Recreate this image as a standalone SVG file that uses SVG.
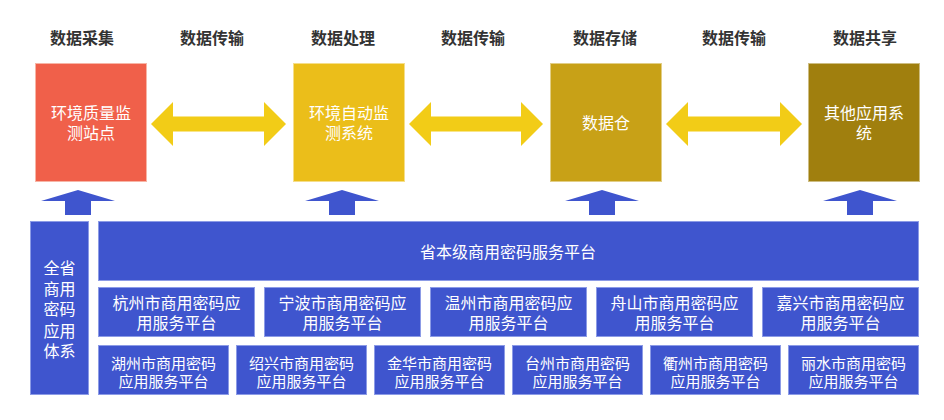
<svg xmlns="http://www.w3.org/2000/svg" width="944" height="420" viewBox="0 0 944 420">
<style>
.t{font-family:"Noto Sans CJK SC","Noto Sans",sans-serif;font-size:16px;font-weight:bold;fill:#333;text-anchor:middle}
.w{font-family:"Noto Sans CJK SC","Noto Sans",sans-serif;font-size:16px;fill:#fff;text-anchor:middle}
.w15{font-family:"Noto Sans CJK SC","Noto Sans",sans-serif;font-size:15px;fill:#fff;text-anchor:middle}
.b{fill:#3F55CE;stroke:#8C9BE6;stroke-width:1}
.dbl{fill:#F2CC17}
.up{fill:#3F55CE}
</style>
<rect width="944" height="420" fill="#fff"/>
<g id="titles">
<text class="t" x="82" y="44">数据采集</text>
<text class="t" x="212" y="44">数据传输</text>
<text class="t" x="343" y="44">数据处理</text>
<text class="t" x="473" y="44">数据传输</text>
<text class="t" x="605" y="44">数据存储</text>
<text class="t" x="734" y="44">数据传输</text>
<text class="t" x="865" y="44">数据共享</text>
</g>
<g id="node-collect">
<rect x="35.5" y="63.5" width="111" height="118" fill="#F0604A" stroke="#F7B5A6" stroke-width="1"/>
<text class="w" x="91" y="119">环境质量监</text>
<text class="w" x="91" y="139">测站点</text>
</g>
<g id="node-process">
<rect x="293.5" y="63.5" width="111" height="118" fill="#EBBE1A" stroke="#F5DE8A" stroke-width="1"/>
<text class="w" x="349" y="119">环境自动监</text>
<text class="w" x="349" y="139">测系统</text>
</g>
<g id="node-store">
<rect x="550.5" y="63.5" width="111" height="118" fill="#C8A117" stroke="#E2CE86" stroke-width="1"/>
<text class="w" x="606" y="129">数据仓</text>
</g>
<g id="node-share">
<rect x="808.5" y="63.5" width="111" height="118" fill="#A07F0E" stroke="#CDBD82" stroke-width="1"/>
<text class="w" x="864" y="119">其他应用系</text>
<text class="w" x="864" y="139">统</text>
</g>
<g id="connectors">
<polygon class="dbl" points="151,124 173,102 173,116.5 264,116.5 264,102 286,124 264,146 264,131.5 173,131.5 173,146"/>
<polygon class="dbl" points="409,124 431,102 431,116.5 521,116.5 521,102 543,124 521,146 521,131.5 431,131.5 431,146"/>
<polygon class="dbl" points="666,124 688,102 688,116.5 780,116.5 780,102 802,124 780,146 780,131.5 688,131.5 688,146"/>
<polygon class="up" points="78,190 115,201 91,201 91,215 65,215 65,201 41,201"/>
<polygon class="up" points="342,190 379,201 355,201 355,215 329,215 329,201 305,201"/>
<polygon class="up" points="602,190 639,201 615,201 615,215 589,215 589,201 565,201"/>
<polygon class="up" points="860,190 897,201 873,201 873,215 847,215 847,201 823,201"/>
</g>
<g id="node-system">
<rect class="b" x="30.5" y="221.5" width="58" height="173"/>
<text class="w" x="59.5" y="274">全省</text>
<text class="w" x="59.5" y="294.5">商用</text>
<text class="w" x="59.5" y="315">密码</text>
<text class="w" x="59.5" y="336.5">应用</text>
<text class="w" x="59.5" y="357">体系</text>
</g>
<g id="node-province">
<rect class="b" x="98.5" y="221.5" width="820" height="59"/>
<text class="w" x="508" y="258">省本级商用密码服务平台</text>
</g>
<g id="node-hangzhou"><rect class="b" x="98.5" y="287.5" width="156" height="49"/><text class="w" x="176.5" y="309">杭州市商用密码应</text><text class="w" x="176.5" y="329">用服务平台</text></g>
<g id="node-ningbo"><rect class="b" x="264.5" y="287.5" width="156" height="49"/><text class="w" x="342.5" y="309">宁波市商用密码应</text><text class="w" x="342.5" y="329">用服务平台</text></g>
<g id="node-wenzhou"><rect class="b" x="430.5" y="287.5" width="156" height="49"/><text class="w" x="508.5" y="309">温州市商用密码应</text><text class="w" x="508.5" y="329">用服务平台</text></g>
<g id="node-zhoushan"><rect class="b" x="596.5" y="287.5" width="156" height="49"/><text class="w" x="674.5" y="309">舟山市商用密码应</text><text class="w" x="674.5" y="329">用服务平台</text></g>
<g id="node-jiaxing"><rect class="b" x="762.5" y="287.5" width="156" height="49"/><text class="w" x="840.5" y="309">嘉兴市商用密码应</text><text class="w" x="840.5" y="329">用服务平台</text></g>
<g id="node-huzhou"><rect class="b" x="98.5" y="345.5" width="130" height="49"/><text class="w15" x="163.5" y="368.5">湖州市商用密码</text><text class="w15" x="163.5" y="387">应用服务平台</text></g>
<g id="node-shaoxing"><rect class="b" x="236.5" y="345.5" width="130" height="49"/><text class="w15" x="301.5" y="368.5">绍兴市商用密码</text><text class="w15" x="301.5" y="387">应用服务平台</text></g>
<g id="node-jinhua"><rect class="b" x="374.5" y="345.5" width="130" height="49"/><text class="w15" x="439.5" y="368.5">金华市商用密码</text><text class="w15" x="439.5" y="387">应用服务平台</text></g>
<g id="node-taizhou"><rect class="b" x="512.5" y="345.5" width="130" height="49"/><text class="w15" x="577.5" y="368.5">台州市商用密码</text><text class="w15" x="577.5" y="387">应用服务平台</text></g>
<g id="node-quzhou"><rect class="b" x="650.5" y="345.5" width="130" height="49"/><text class="w15" x="715.5" y="368.5">衢州市商用密码</text><text class="w15" x="715.5" y="387">应用服务平台</text></g>
<g id="node-lishui"><rect class="b" x="788.5" y="345.5" width="130" height="49"/><text class="w15" x="853.5" y="368.5">丽水市商用密码</text><text class="w15" x="853.5" y="387">应用服务平台</text></g>
</svg>
